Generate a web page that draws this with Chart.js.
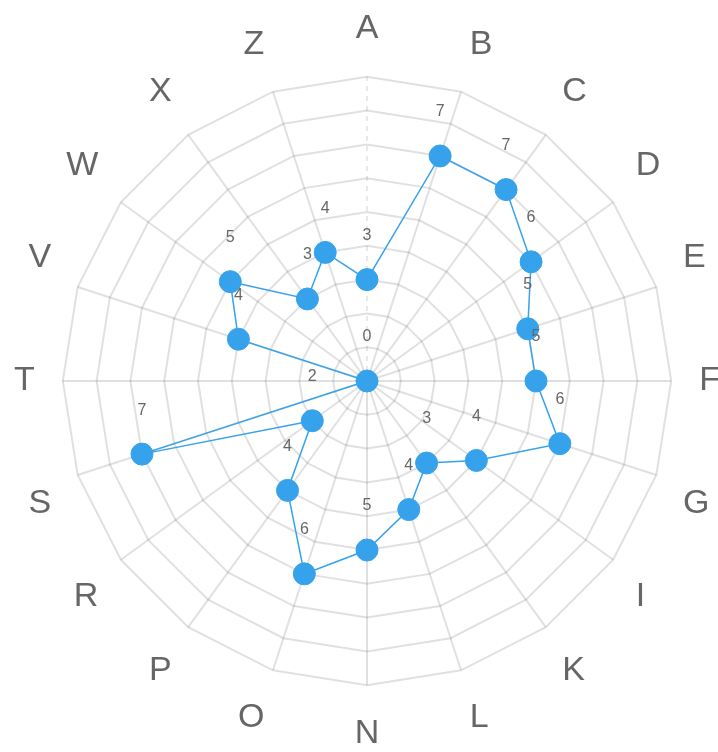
<!DOCTYPE html>
<html>
<head>
<meta charset="utf-8">
<script src="https://cdn.jsdelivr.net/npm/chart.js@4/dist/chart.umd.min.js"></script>
<style>
  html, body { margin: 0; padding: 0; background: #fff; overflow: hidden; width: 718px; height: 752px; }
  #radar { position: absolute; left: -6px; top: 8px; }
</style>
</head>
<body>
<canvas id="radar" width="746" height="746"></canvas>
<script>
var labels = ['A', 'B', 'C', 'D', 'E', 'F', 'G', 'I', 'K', 'L', 'N', 'O', 'P', 'R', 'S', 'T', 'V', 'W', 'X', 'Z'];
var values = [3, 7, 7, 6, 5, 5, 6, 4, 3, 4, 5, 6, 4, 2, 7, 0, 4, 5, 3, 4];
var scaleMax = 9;

var blue = 'rgb(54, 162, 235)';
var fontFamily = '"Liberation Sans", Arial, Helvetica, sans-serif';

// draws the value above each point (no datalabels plugin available)
var valueLabels = {
	id: 'valueLabels',
	afterDatasetsDraw: function(chart)
	{
		var ctx = chart.ctx;
		var meta = chart.getDatasetMeta(0);
		ctx.save();
		ctx.font = '16px ' + fontFamily;
		ctx.fillStyle = '#666';
		ctx.textAlign = 'center';
		ctx.textBaseline = 'middle';
		for (var i = 0; i < meta.data.length; i++)
		{
			var pt = meta.data[i];
			ctx.fillText(String(values[i]), pt.x, pt.y - 44);
		}
		ctx.restore();
	}
};

var chart = new Chart(document.getElementById('radar'), {
	type: 'radar',
	data: {
		labels: labels,
		datasets: [{
			data: values,
			borderColor: blue,
			backgroundColor: blue,
			borderWidth: 1.5,
			fill: false,
			tension: 0,
			pointRadius: 11,
			pointHoverRadius: 11,
			pointBackgroundColor: blue,
			pointBorderColor: blue,
			pointBorderWidth: 1
		}]
	},
	options: {
		responsive: false,
		animation: false,
		plugins: {
			legend: { display: false },
			tooltip: { enabled: false }
		},
		scales: {
			r: {
				min: 0,
				max: scaleMax,
				ticks: { display: false, stepSize: 1 },
				grid: {
					color: 'rgba(0,0,0,0.12)',
					lineWidth: 2
				},
				angleLines: {
					color: function(c) { return c.index === 0 ? 'rgba(0,0,0,0.09)' : 'rgba(0,0,0,0.12)'; },
					lineWidth: 2,
					borderDash: function(c) { return c.index === 0 ? [5, 5] : []; }
				},
				pointLabels: {
					padding: 28,
					color: '#666',
					font: { size: 34, family: fontFamily }
				}
			}
		}
	},
	plugins: [valueLabels]
});
</script>
</body>
</html>
